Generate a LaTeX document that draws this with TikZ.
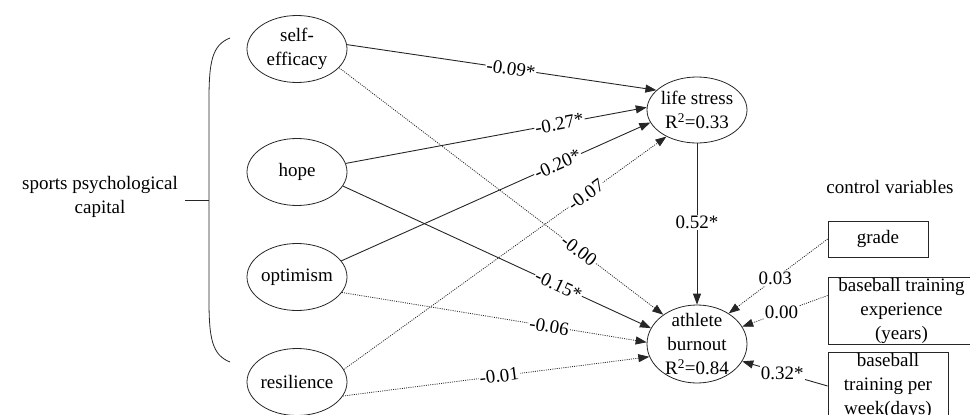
\documentclass[tikz,border=0pt]{standalone}
\usepackage{fontspec}
\setmainfont{Liberation Serif}
\usetikzlibrary{shapes.geometric,arrows.meta,calc}
\begin{document}
\begin{tikzpicture}[x=1pt,y=1pt,
  font=\fontsize{19}{24}\selectfont,
  lat/.style={ellipse,draw=black!85,line width=0.8pt,minimum width=100pt,minimum height=67pt,inner sep=0pt},
  obs/.style={rectangle,draw=black!85,line width=0.8pt,align=center,inner sep=0pt},
  sig/.style={draw=black!85,line width=0.9pt,-{Triangle[length=11pt,width=8pt]}},
  ns/.style={draw=black!85,line width=0.8pt,dash pattern=on 1pt off 1.2pt,-{Triangle[length=11pt,width=8pt]}},
  lab/.style={fill=white,inner sep=1pt},
]
\useasboundingbox (0,0) rectangle (970,-415);
\clip (0,0) rectangle (970,-415);

% latent variables
\node[lat,label={[align=center]center:{self-\\efficacy}}] (se) at (297,-49) {};
\node[lat,label={center:hope}] (ho) at (297,-172) {};
\node[lat,label={center:optimism}] (op) at (297,-277) {};
\node[lat,label={center:resilience}] (re) at (297,-382) {};
\node[lat,minimum height=66pt,label={[align=center]center:{life stress\\R\textsuperscript{2}=0.33}}] (ls) at (697,-110) {};
\node[lat,minimum height=78pt,label={[align=center]center:{athlete\\burnout\\R\textsuperscript{2}=0.84}}] (bo) at (697,-344) {};

% control variables
\node[obs,minimum width=100pt,minimum height=36pt] (gr) at (878,-239) {grade};
\node[obs,minimum width=147pt,minimum height=67pt] (ex) at (901.5,-310.5) {baseball training\\experience\\(years)};
\node[obs,minimum width=120pt,minimum height=68pt] (pw) at (888,-386) {baseball\\training per\\week(days)};

% texts
\node[align=center] (spc) at (100,-197) {sports psychological\\capital};
\node (cv) at (890,-187) {control variables};

% bracket
\draw[draw=black!85,line width=0.8pt] (230,-38) .. controls (212,-45) and (209,-62) .. (209,-100) -- (209,-300) .. controls (209,-338) and (212,-355) .. (230,-362);
\draw[draw=black!85,line width=0.8pt] (185,-200) -- (209,-200);

% paths to life stress
\draw[sig] (se.5) -- node[lab,sloped,pos=0.53]{-0.09*} (ls.154);
\draw[sig] (ho.10) -- node[lab,sloped,pos=0.71]{-0.27*} (ls.177);
\draw[sig] (op.20) -- node[lab,sloped,pos=0.70]{-0.20*} (ls.195);
\draw[ns] (re.15) -- node[lab,sloped,pos=0.75]{-0.07} (ls.221);

% paths to athlete burnout
\draw[ns] (se.336) -- node[lab,sloped,pos=0.74]{-0.00} (bo.139);
\draw[sig] (ho.343) -- node[lab,sloped,pos=0.70]{-0.15*} (bo.161);
\draw[ns] (op.341) -- node[lab,sloped,pos=0.68]{-0.06} (bo.178);
\draw[ns] (re.343) -- node[lab,sloped,pos=0.51]{-0.01} (bo.195);
\draw[sig] (ls.south) -- node[lab,pos=0.49]{0.52*} (bo.north);

% control paths
\draw[ns] (gr.west) -- node[lab,pos=0.53]{0.03} (bo.44);
\draw[ns] ($(ex.west)+(0,15)$) -- node[lab,pos=0.54]{0.00} (bo.21);
\draw[sig] (pw.west) -- node[lab,pos=0.53]{0.32*} (bo.339);
\end{tikzpicture}
\end{document}
